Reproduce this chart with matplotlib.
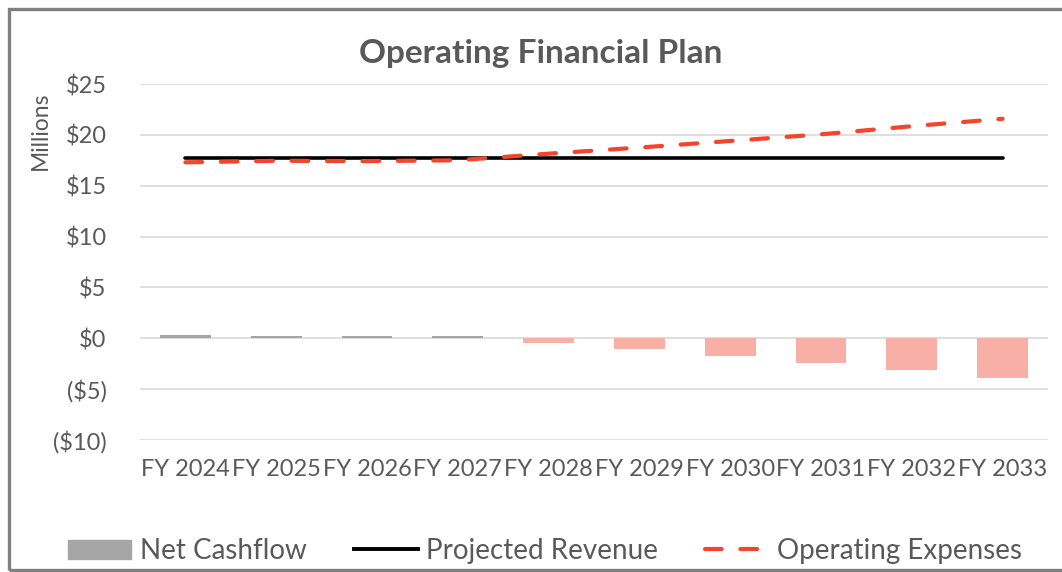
import matplotlib.pyplot as plt
import matplotlib.patches as mpatches
from matplotlib.lines import Line2D
import numpy as np

# values ($ millions)
years = ["FY 2024", "FY 2025", "FY 2026", "FY 2027", "FY 2028",
         "FY 2029", "FY 2030", "FY 2031", "FY 2032", "FY 2033"]
net_cashflow = [0.3, 0.2, 0.2, 0.2, -0.42, -1.1, -1.75, -2.4, -3.12, -3.92]
projected_revenue = [17.7, 17.7, 17.7, 17.7, 17.7, 17.7, 17.7, 17.7, 17.7, 17.7]
operating_expenses = [17.3, 17.45, 17.42, 17.5, 18.15, 18.75, 19.4, 20.05, 20.85, 21.58]
yticks = [-10, -5, 0, 5, 10, 15, 20, 25]

plt.rcParams['font.family'] = ['Lato', 'DejaVu Sans']
txt = '#595959'

fig = plt.figure(figsize=(10.62, 5.72), dpi=100)
ax = fig.add_axes([140 / 1062, 1 - 440 / 572, 908 / 1062, 356 / 572])

x = np.arange(len(years))
bar_colors = ['#A5A5A5' if v >= 0 else '#F8B0A6' for v in net_cashflow]
ax.bar(x, net_cashflow, width=0.56, color=bar_colors, zorder=2)
ax.plot(x, projected_revenue, color='black', lw=2.6, solid_capstyle='round', zorder=3)
exp_line, = ax.plot(x, operating_expenses, color='#F4442A', lw=3.0, zorder=4,
                    dash_capstyle='round')
exp_line.set_dashes((4, 4.5))

ax.set_xlim(-0.5, len(years) - 0.5)
ax.set_ylim(-10, 25)
ax.set_yticks(yticks)
ax.set_yticklabels(['$%d' % v if v >= 0 else '($%d)' % -v for v in yticks])
ax.set_xticks(x)
ax.set_xticklabels(years)
ax.tick_params(axis='both', length=0, labelsize=17, labelcolor=txt)
ax.tick_params(axis='y', pad=24)
ax.tick_params(axis='x', pad=14)
ax.grid(axis='y', color='#D9D9D9', lw=1.2, zorder=0)
for s in ax.spines.values():
    s.set_visible(False)

fig.text(541 / 1062, 1 - 53 / 572, "Operating Financial Plan", ha='center', va='center',
         fontsize=24, fontweight='bold', color=txt)
fig.text(40 / 1062, 1 - 131 / 572, "Millions", rotation=90, ha='center', va='center',
         fontsize=16.5, color=txt)

handles = [
    mpatches.Patch(color='#A5A5A5'),
    Line2D([], [], color='black', lw=2.8),
    Line2D([], [], color='#F4442A', lw=3.0, dashes=(4, 4.5), dash_capstyle='round'),
]
fig.legend(handles, ["Net Cashflow", "Projected Revenue", "Operating Expenses"],
           loc='center', bbox_to_anchor=(545 / 1062, 1 - 551 / 572), ncol=3,
           frameon=False, fontsize=20, labelcolor=txt, handlelength=2.3,
           handletextpad=0.3, columnspacing=1.7)

# outer chart frame (right side runs off the image)
fig.patches.append(mpatches.Rectangle((9 / 1062, 2 / 572), 1.1, 561 / 572, fill=False,
                                      edgecolor='#808080', lw=2.4,
                                      transform=fig.transFigure, figure=fig))

fig.savefig("out.png", dpi=100)
